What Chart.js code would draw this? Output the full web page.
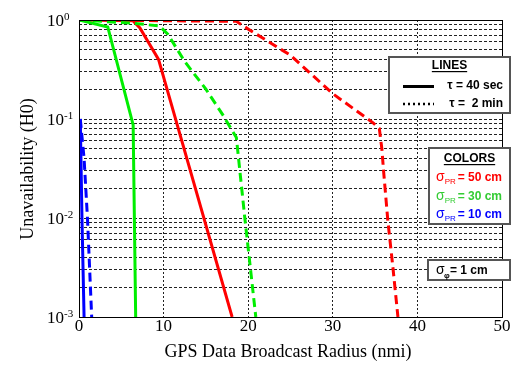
<!DOCTYPE html>
<html>
<head>
<meta charset="utf-8">
<script src="https://cdn.jsdelivr.net/npm/chart.js@4.4.0/dist/chart.umd.min.js"></script>
<style>
  html, body { margin: 0; padding: 0; background: #fff; }
</style>
</head>
<body>
<canvas id="chart" width="515" height="366"></canvas>
<script>
// axis ticks
const xTicks = [0, 10, 20, 30, 40, 50];
const yDecades = [1, 0.1, 0.01, 0.001];
const yExponents = ['0', '-1', '-2', '-3'];

// red = sigma_PR 50 cm, green = 30 cm, blue = 10 cm
// solid = tau 40 sec, dashed = tau 2 min
const red40x = [0, 6.4, 7.2, 9.4, 18.1];
const red40y = [1, 0.98, 0.83, 0.4, 0.001];
const red2x = [0, 18.6, 20.2, 25, 30, 34.8, 35.5, 35.8, 36.0, 36.5, 37.1, 37.7];
const red2y = [1, 0.97, 0.79, 0.44, 0.18, 0.091, 0.08, 0.05, 0.03, 0.0095, 0.0032, 0.001];
const green40x = [0, 3.4, 6.4, 6.7];
const green40y = [1, 0.85, 0.087, 0.001];
const green2x = [0, 6.3, 9.5, 10.5, 12.5, 15, 17, 18.6, 19.6, 20.9];
const green2y = [1, 0.93, 0.87, 0.72, 0.38, 0.2, 0.11, 0.065, 0.01, 0.001];
const blue40x = [0.15, 0.35, 0.6];
const blue40y = [0.1, 0.01, 0.001];
const blue2x = [0.15, 0.6, 1.0, 1.5];
const blue2y = [0.1, 0.04, 0.01, 0.001];

const RED = '#ff0000', GREEN = '#00ee00', BLUE = '#0000ff';

// minor grid lines of the log axis
const yGrid = [];
[0.001, 0.01, 0.1].forEach(d => { for (let k = 1; k < 10; k++) yGrid.push(+(k * d).toPrecision(3)); });
yGrid.push(1);

function pts(xs, ys) {
    return xs.map((x, i) => ({ x: x, y: ys[i] }));
}

function series(xs, ys, color, dashed) {
    return {
        data: pts(xs, ys),
        borderColor: color,
        borderWidth: 3,
        borderDash: dashed ? [9, 5] : [],
        pointRadius: 0,
        tension: 0,
        fill: false
    };
}

function legendBox(ctx, x0, y0, x1, y1) {
    ctx.fillStyle = '#fff';
    ctx.fillRect(x0, y0, x1 - x0, y1 - y0);
    ctx.strokeStyle = '#555';
    ctx.lineWidth = 2;
    ctx.strokeRect(x0, y0, x1 - x0, y1 - y0);
}

function heading(ctx, text, cx, y) {
    ctx.font = 'bold 12px "Liberation Sans"';
    ctx.fillStyle = '#000';
    ctx.textAlign = 'center';
    ctx.fillText(text, cx, y);
    const w = ctx.measureText(text).width;
    ctx.fillRect(cx - w / 2, y + 2, w, 1.2);
}

function sigmaEntry(ctx, x, y, sub, rest, color) {
    ctx.fillStyle = color;
    ctx.textAlign = 'left';
    ctx.font = '14px "Liberation Sans"';
    ctx.fillText('σ', x, y);
    const w = ctx.measureText('σ').width;
    ctx.font = '8px "Liberation Sans"';
    ctx.fillText(sub, x + w, y + 3);
    ctx.font = 'bold 12px "Liberation Sans"';
    ctx.textAlign = 'right';
    ctx.fillText(rest, 502, y);
}

const overlay = {
    id: 'overlay',
    afterDraw(chart) {
        const ctx = chart.ctx;
        const { left, right, top, bottom } = chart.chartArea;
        const xs = chart.scales.x, ys = chart.scales.y;
        ctx.save();

        // plot frame
        ctx.strokeStyle = '#000';
        ctx.lineWidth = 1;
        ctx.setLineDash([]);
        ctx.strokeRect(left + 0.5, top + 0.5, right - left, bottom - top);

        // tick labels
        ctx.fillStyle = '#000';
        ctx.font = '17px "Liberation Serif"';
        ctx.textAlign = 'center';
        ctx.textBaseline = 'alphabetic';
        xTicks.forEach(v => ctx.fillText(String(v), xs.getPixelForValue(v), bottom + 14));

        yDecades.forEach((v, i) => {
            const py = ys.getPixelForValue(v);
            ctx.font = '17px "Liberation Serif"';
            ctx.textAlign = 'left';
            ctx.fillText('10', 47, py + 6);
            const w = ctx.measureText('10').width;
            ctx.font = '11px "Liberation Serif"';
            ctx.fillText(yExponents[i], 47 + w, py);
        });

        // axis titles
        ctx.font = '18px "Liberation Serif"';
        ctx.textAlign = 'center';
        ctx.fillText('GPS Data Broadcast Radius (nmi)', 288, 357);
        ctx.save();
        ctx.translate(33, 169);
        ctx.rotate(-Math.PI / 2);
        ctx.fillText('Unavailability (H0)', 0, 0);
        ctx.restore();

        // LINES box
        legendBox(ctx, 389, 57, 510, 113);
        heading(ctx, 'LINES', 449.5, 69);
        ctx.strokeStyle = '#000';
        ctx.lineWidth = 3;
        ctx.beginPath(); ctx.moveTo(403, 86.5); ctx.lineTo(434, 86.5); ctx.stroke();
        ctx.setLineDash([2, 3]);
        ctx.lineWidth = 2.5;
        ctx.beginPath(); ctx.moveTo(403, 104); ctx.lineTo(434, 104); ctx.stroke();
        ctx.setLineDash([]);
        ctx.font = 'bold 12px "Liberation Sans"';
        ctx.textAlign = 'right';
        ctx.fillStyle = '#000';
        ctx.fillText('τ = 40 sec', 503, 89);
        ctx.fillText('τ =  2 min', 503, 107);

        // COLORS box
        legendBox(ctx, 429, 148, 510, 224);
        heading(ctx, 'COLORS', 469.5, 162);
        sigmaEntry(ctx, 436, 181, 'PR', '= 50 cm', RED);
        sigmaEntry(ctx, 436, 200, 'PR', '= 30 cm', '#33cc33');
        sigmaEntry(ctx, 436, 218, 'PR', '= 10 cm', BLUE);

        // sigma phi box
        legendBox(ctx, 428, 260, 510, 280);
        ctx.fillStyle = '#000';
        ctx.textAlign = 'left';
        ctx.font = '14px "Liberation Sans"';
        ctx.fillText('σ', 436, 274);
        ctx.font = 'bold 8px "Liberation Sans"';
        ctx.fillText('φ', 444, 278);
        ctx.font = 'bold 12px "Liberation Sans"';
        ctx.fillText('= 1 cm', 450, 274);

        ctx.restore();
    }
};

new Chart(document.getElementById('chart').getContext('2d'), {
    type: 'line',
    data: {
        datasets: [
            series(blue40x, blue40y, BLUE, false),
            series(blue2x, blue2y, BLUE, true),
            series(green40x, green40y, GREEN, false),
            series(green2x, green2y, GREEN, true),
            series(red40x, red40y, RED, false),
            series(red2x, red2y, RED, true)
        ]
    },
    options: {
        responsive: false,
        animation: false,
        layout: { padding: { left: 79, top: 20, right: 13, bottom: 49 } },
        plugins: {
            legend: { display: false },
            tooltip: { enabled: false }
        },
        scales: {
            x: {
                type: 'linear',
                min: 0,
                max: 50,
                afterBuildTicks: s => { s.ticks = xTicks.map(v => ({ value: v })); },
                ticks: { display: false },
                grid: { color: '#222', lineWidth: 1, drawTicks: false },
                border: { display: false, dash: [2, 2] }
            },
            y: {
                type: 'logarithmic',
                min: 0.001,
                max: 1,
                afterBuildTicks: s => { s.ticks = yGrid.map(v => ({ value: v })); },
                ticks: { display: false },
                grid: { color: '#222', lineWidth: 1, drawTicks: false },
                border: { display: false, dash: [3, 2] }
            }
        }
    },
    plugins: [overlay]
});
</script>
</body>
</html>
